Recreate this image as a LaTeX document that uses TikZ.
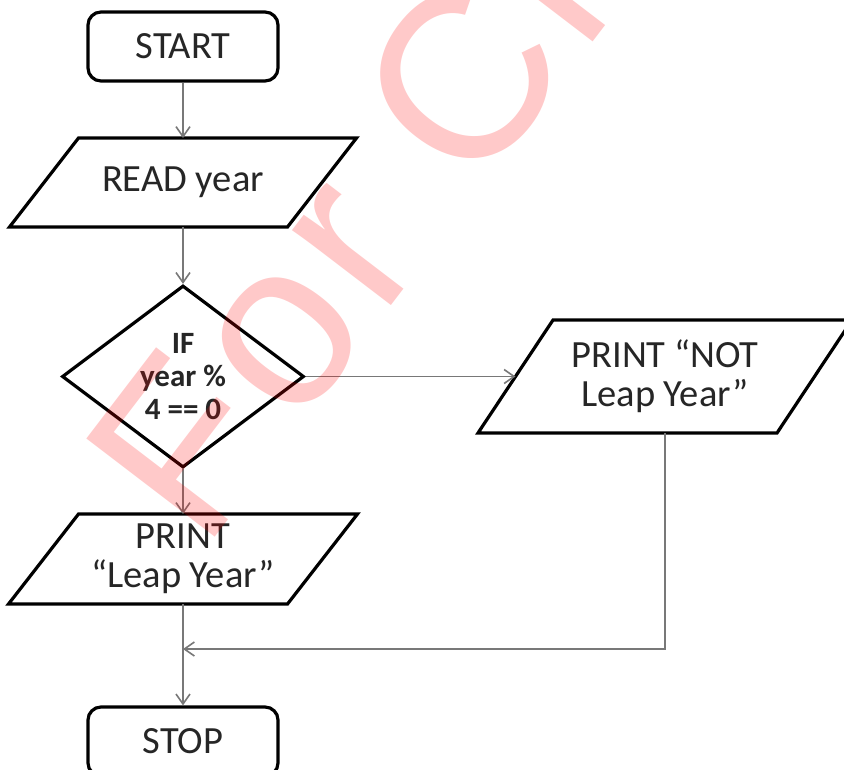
\documentclass[tikz,border=0pt]{standalone}
\usepackage{fontspec}
\setmainfont{Carlito}
\newfontfamily\wmfont[LetterSpace=4.15]{Liberation Sans}
\usetikzlibrary{shapes.geometric,arrows.meta}

\definecolor{txt}{RGB}{38,38,38}
\definecolor{conn}{RGB}{120,120,120}

\tikzset{
  outline/.style={draw=black, line width=3.2pt, line join=miter},
  label/.style={text=txt, font=\fontsize{38.5}{39}\selectfont, align=center},
  term/.style={outline, label, rounded corners=13pt, minimum width=190pt,
    minimum height=69pt, inner sep=0pt},
  iobox/.style={label, minimum height=#1, inner sep=0pt, outer sep=0pt},
  decision/.style={outline, diamond, inner sep=0pt, text=txt, align=center,
    font=\bfseries\fontsize{31}{33}\selectfont},
  flow/.style={draw=conn, line width=1.6pt,
    -{Straight Barb[length=10pt,width=14pt,line width=1.6pt]}},
  watermark/.style={text=red, opacity=0.21, inner sep=0pt, outer sep=0pt,
    font=\wmfont\fontsize{235}{235}\selectfont}
}

\begin{document}
\begin{tikzpicture}[x=1pt, y=-1pt]
  \useasboundingbox (0,0) rectangle (844,769);
  \fill[white] (0,0) rectangle (844,769);

  % terminals, input/output boxes and the test
  \node[term] (start) at (183,46.5) {START};
  \node[iobox=89pt, minimum width=278pt] (read) at (183,182.5) {READ year};
  \node[decision, minimum width=242pt, minimum height=182pt] (test) at (183,376.5)
    {IF\\year \%\\4 == 0};
  \node[iobox=113pt, minimum width=299pt] (no) at (665,376.5)
    {PRINT “NOT\\Leap Year”};
  \node[iobox=90pt, minimum width=279pt] (yes) at (183,559) {PRINT\\“Leap Year”};
  \node[term] (stop) at (183,741.5) {STOP};

  % slanted outlines of the input/output boxes
  \foreach \n/\d in {read/34.5, yes/35, no/37.5}
    \draw[outline] ([xshift=\d pt]\n.north west) -- ([xshift=\d pt]\n.north east)
      -- ([xshift=-\d pt]\n.south east) -- ([xshift=-\d pt]\n.south west) -- cycle;

  % connectors
  \coordinate (merge) at (183,649);
  \draw[flow] (start.south) -- (read.north);
  \draw[flow] (read.south) -- (test.north);
  \draw[flow] (test.east) -- (no.west);
  \draw[flow] (test.south) -- (yes.north);
  \draw[flow] (yes.south) -- (stop.north);
  \draw[flow] (no.south) |- (merge);

  % watermark lettering across the page
  \begin{scope}
    \clip (0,0) rectangle (844,769);
    \node[watermark, anchor=base west, rotate=52.6] (wm) at (203,552) {For Cl};
  \end{scope}
\end{tikzpicture}
\end{document}
